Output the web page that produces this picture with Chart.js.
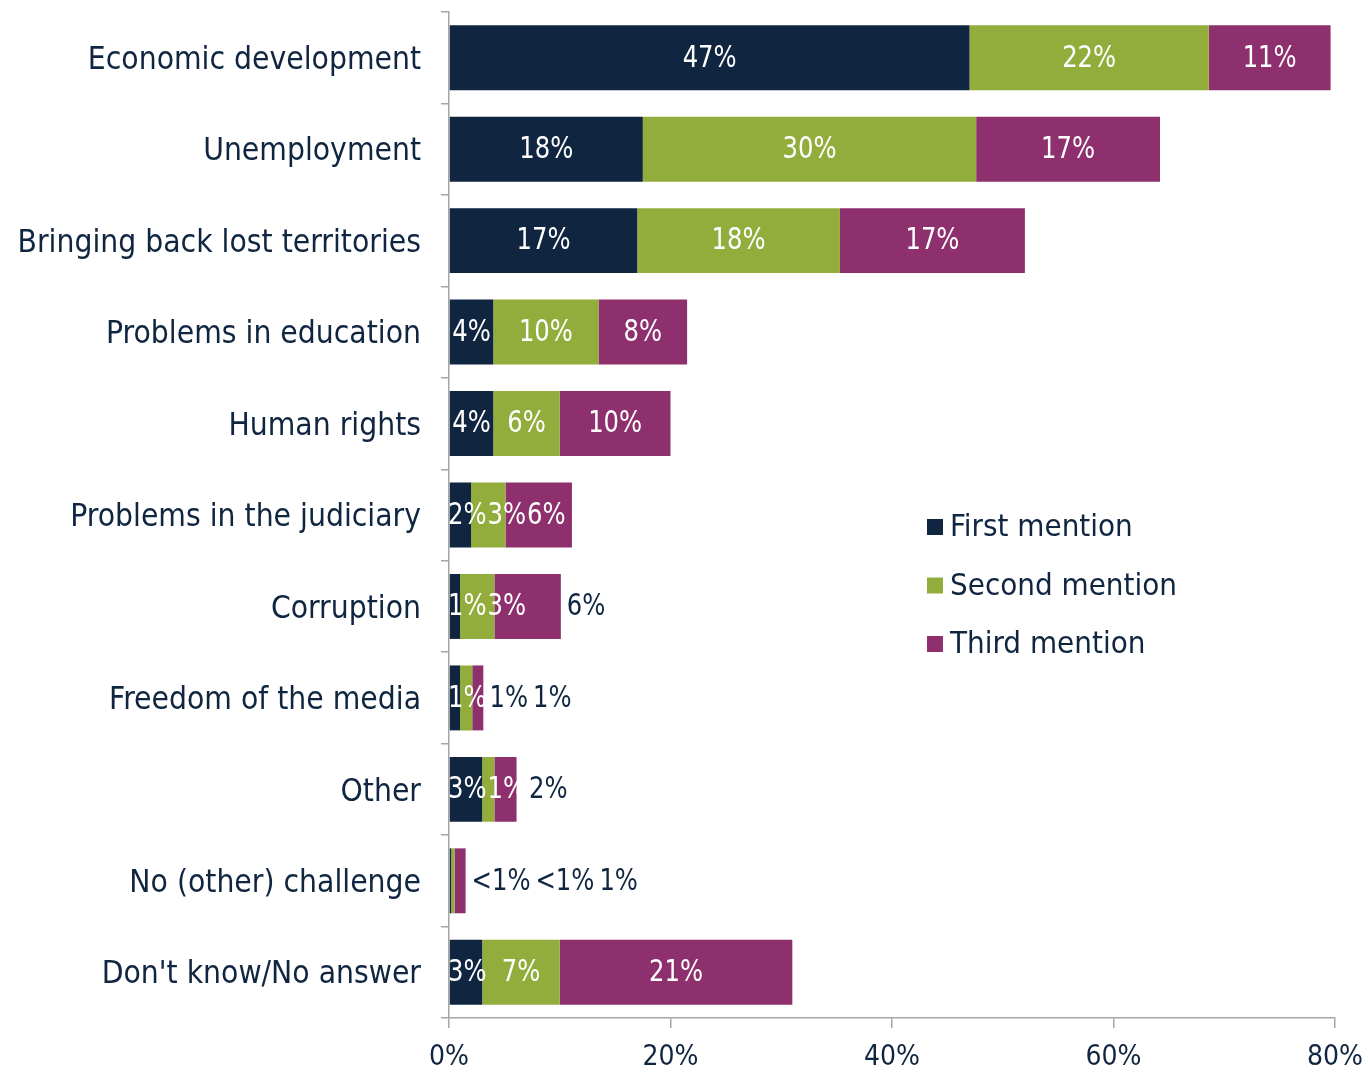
<!DOCTYPE html>
<html lang="en">
<head>
    <meta charset="UTF-8">
    <title>Challenges</title>
    <script src="https://cdn.jsdelivr.net/npm/chart.js"></script>
    <style>
        body { margin: 0; background: #fff; }
        #wrap { width: 1368px; height: 1072px; position: relative; }
    </style>
</head>
<body>
    <div id="wrap"><canvas id="chart" width="1368" height="1072"></canvas></div>

    <script>
        const categories = [
            'Economic development',
            'Unemployment',
            'Bringing back lost territories',
            'Problems in education',
            'Human rights',
            'Problems in the judiciary',
            'Corruption',
            'Freedom of the media',
            'Other',
            'No (other) challenge',
            "Don't know/No answer"
        ];
        const seriesNames = ['First mention', 'Second mention', 'Third mention'];
        const firstMention = [47, 17.5, 17, 4, 4, 2, 1, 1, 3, 0.2, 3];
        const secondMention = [21.6, 30.1, 18.3, 9.5, 6, 3.1, 3.1, 1.1, 1.1, 0.3, 7];
        const thirdMention = [11, 16.6, 16.7, 8, 10, 6, 6, 1, 2, 1, 21];
        const xTicks = [0, 20, 40, 60, 80];

        // which labels sit to the right of the bar (per series, per row)
        const outsideRows = [[9], [7, 9], [6, 7, 8, 9]];

        const navy = '#0f2540';
        const green = '#93ad3c';
        const purple = '#8d306d';
        const axisGrey = '#a6a6a6';
        const textFont = '"DejaVu Sans Condensed", "DejaVu Sans", sans-serif';
        const squeeze = 0.9; // numbers in the original are tall and narrow

        function fmt(v) {
            return v < 0.5 ? '<1%' : Math.round(v) + '%';
        }

        const labelPlugin = {
            id: 'barLabels',
            afterDatasetsDraw(chart) {
                const ctx = chart.ctx;
                const left = chart.chartArea.left;
                ctx.save();
                ctx.font = '30px ' + textFont;
                ctx.textBaseline = 'middle';
                ctx.textAlign = 'left';
                categories.forEach((c, i) => {
                    let lastEnd = left - 2;
                    let barEnd = left;
                    const items = [];
                    chart.data.datasets.forEach((ds, d) => {
                        const bar = chart.getDatasetMeta(d).data[i];
                        barEnd = Math.max(barEnd, bar.x);
                        items.push({ bar, text: fmt(ds.data[i]), out: outsideRows[d].includes(i) });
                    });
                    let outStart = barEnd + 6;
                    items.forEach(it => {
                        const w = ctx.measureText(it.text).width * squeeze;
                        let x;
                        if (it.out) {
                            x = Math.max(outStart, lastEnd + 3);
                            ctx.fillStyle = navy;
                        } else {
                            const cx = (it.bar.base + it.bar.x) / 2;
                            x = Math.max(cx - w / 2, left - 2, lastEnd + 1);
                            ctx.fillStyle = '#ffffff';
                        }
                        ctx.save();
                        ctx.translate(x, it.bar.y + 1);
                        ctx.scale(squeeze, 1);
                        ctx.fillText(it.text, 0, 0);
                        ctx.restore();
                        lastEnd = x + w;
                        if (it.out) outStart = lastEnd + 5;
                    });
                });
                ctx.restore();
            }
        };

        const legendPlugin = {
            id: 'innerLegend',
            afterDraw(chart) {
                const ctx = chart.ctx;
                ctx.save();
                ctx.font = '31px ' + textFont;
                ctx.textBaseline = 'middle';
                chart.data.datasets.forEach((ds, d) => {
                    const y = 527 + d * 58.5;
                    ctx.fillStyle = ds.backgroundColor;
                    ctx.fillRect(927, y - 8, 16, 16);
                    ctx.fillStyle = navy;
                    ctx.fillText(ds.label, 950, y + 1);
                });
                ctx.restore();
            }
        };

        const ctx = document.getElementById('chart').getContext('2d');
        new Chart(ctx, {
            type: 'bar',
            data: {
                labels: categories,
                datasets: [
                    { label: seriesNames[0], data: firstMention, backgroundColor: navy },
                    { label: seriesNames[1], data: secondMention, backgroundColor: green },
                    { label: seriesNames[2], data: thirdMention, backgroundColor: purple }
                ]
            },
            options: {
                indexAxis: 'y',
                responsive: false,
                animation: false,
                layout: { padding: { top: 12, right: 33, left: 0, bottom: 0 } },
                plugins: {
                    legend: { display: false },
                    tooltip: { enabled: false }
                },
                datasets: {
                    bar: { categoryPercentage: 0.71, barPercentage: 1.0 }
                },
                scales: {
                    x: {
                        stacked: true,
                        min: 0,
                        max: 80,
                        afterBuildTicks(scale) {
                            scale.ticks = xTicks.map(v => ({ value: v }));
                        },
                        afterFit(scale) {
                            scale.height = 54;
                            scale.paddingLeft = 0;
                            scale.paddingRight = 0;
                        },
                        border: { color: axisGrey, width: 1.5 },
                        grid: { drawOnChartArea: false, color: axisGrey, tickLength: 10, lineWidth: 1.5 },
                        ticks: {
                            color: navy,
                            padding: 13,
                            font: { family: textFont, size: 28 },
                            callback: v => v + '%'
                        }
                    },
                    y: {
                        stacked: true,
                        afterFit(scale) {
                            scale.width = 449;
                            scale.paddingTop = 0;
                            scale.paddingBottom = 0;
                        },
                        border: { color: axisGrey, width: 1.5 },
                        grid: { drawOnChartArea: false, color: axisGrey, tickLength: 8, lineWidth: 1.5, offset: true },
                        ticks: {
                            color: navy,
                            padding: 20,
                            labelOffset: 3,
                            font: { family: textFont, size: 31.5 }
                        }
                    }
                }
            },
            plugins: [labelPlugin, legendPlugin]
        });
    </script>
</body>
</html>
